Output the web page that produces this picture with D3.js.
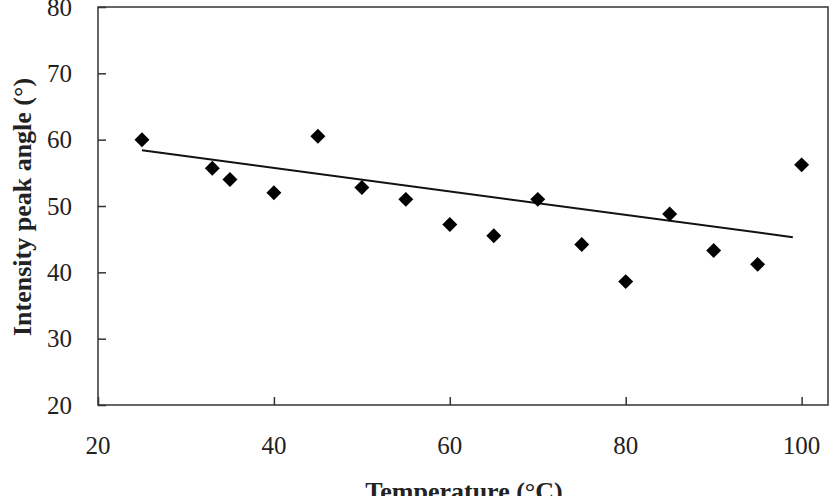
<!DOCTYPE html>
<html>
<head>
<meta charset="utf-8">
<script src="https://cdn.jsdelivr.net/npm/d3@7"></script>
<style>
  body { margin: 0; background: #fff; }
  svg text { font-family: "Liberation Serif", "DejaVu Serif", serif; fill: #222; }
</style>
</head>
<body>
<svg id="chart" width="833" height="496"></svg>
<script>
var temps = [25, 33, 35, 40, 45, 50, 55, 60, 65, 70, 75, 80, 85, 90, 95, 100];
var angles = [60, 55.7, 54, 52, 60.5, 52.8, 51, 47.2, 45.5, 51, 44.2, 38.6, 48.8, 43.3, 41.2, 56.2];
var trendX = [25, 99];
var trendY = [58.4, 45.3];
var xTicks = [20, 40, 60, 80, 100];
var yTicks = [20, 30, 40, 50, 60, 70, 80];

(function () {
  var svg = d3.select("#chart");
  var pLeft = 98, pRight = 828, pTop = 7, pBottom = 405;

  var x = d3.scaleLinear().domain([20, 103]).range([pLeft, pRight]);
  var y = d3.scaleLinear().domain([20, 80]).range([pBottom, pTop]);

  // frame
  svg.append("rect")
    .attr("x", pLeft).attr("y", pTop)
    .attr("width", pRight - pLeft).attr("height", pBottom - pTop)
    .attr("fill", "none").attr("stroke", "#333").attr("stroke-width", 1.5);

  // axes, ticks pointing inward
  var xAxis = svg.append("g")
    .attr("transform", "translate(0," + pBottom + ")")
    .call(d3.axisTop(x).tickValues(xTicks).tickSize(8).tickFormat(""));
  xAxis.select(".domain").remove();
  xAxis.selectAll("line").attr("stroke", "#333").attr("stroke-width", 1.5);

  svg.selectAll(".xlab")
    .data(xTicks)
    .enter().append("text")
    .attr("class", "xlab")
    .attr("x", function (d) { return x(d); })
    .attr("y", 454)
    .attr("text-anchor", "middle")
    .style("font-size", "25px")
    .text(function (d) { return d; });

  var yAxis = svg.append("g")
    .attr("transform", "translate(" + pLeft + ",0)")
    .call(d3.axisRight(y).tickValues(yTicks).tickSize(8).tickFormat(""));
  yAxis.select(".domain").remove();
  yAxis.selectAll("line").attr("stroke", "#333").attr("stroke-width", 1.5);

  svg.selectAll(".ylab")
    .data(yTicks)
    .enter().append("text")
    .attr("class", "ylab")
    .attr("x", 72)
    .attr("y", function (d) { return y(d); })
    .attr("dy", "0.35em")
    .attr("text-anchor", "end")
    .style("font-size", "25px")
    .text(function (d) { return d; });

  // trend line
  var line = d3.line()
    .x(function (d) { return x(d[0]); })
    .y(function (d) { return y(d[1]); });
  svg.append("path")
    .datum(d3.zip(trendX, trendY))
    .attr("d", line)
    .attr("fill", "none")
    .attr("stroke", "#111")
    .attr("stroke-width", 2);

  // points (rotated squares = diamonds)
  var sym = d3.symbol().type(d3.symbolSquare).size(112);
  svg.selectAll(".pt")
    .data(d3.zip(temps, angles))
    .enter().append("path")
    .attr("class", "pt")
    .attr("d", sym)
    .attr("transform", function (d) { return "translate(" + x(d[0]) + "," + y(d[1]) + ") rotate(45)"; })
    .attr("fill", "#000");

  // titles
  svg.append("text")
    .attr("x", 464).attr("y", 500)
    .attr("text-anchor", "middle")
    .style("font-size", "26px").style("font-weight", "bold")
    .text("Temperature (°C)");

  svg.append("text")
    .attr("transform", "translate(31,207) rotate(-90)")
    .attr("text-anchor", "middle")
    .style("font-size", "26px").style("font-weight", "bold")
    .text("Intensity peak angle (°)");
})();
</script>
</body>
</html>
